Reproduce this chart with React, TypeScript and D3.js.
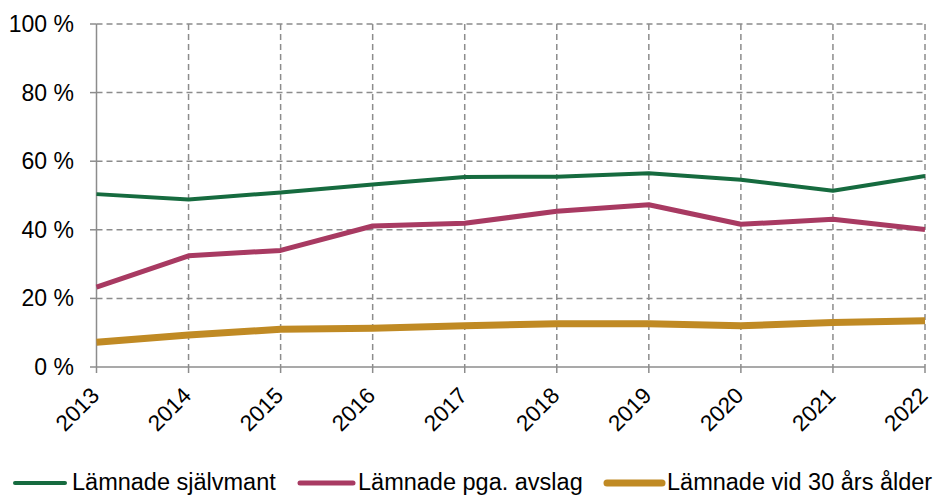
import React from 'react';
import * as d3 from 'd3';

const years = ['2013', '2014', '2015', '2016', '2017', '2018', '2019', '2020', '2021', '2022'];
const sjalvmant = [50.4, 48.8, 50.9, 53.2, 55.4, 55.5, 56.5, 54.6, 51.4, 55.7];
const avslag = [23.3, 32.4, 34.0, 41.1, 41.9, 45.4, 47.3, 41.6, 43.1, 40.1];
const vid30 = [7.2, 9.3, 11.0, 11.3, 12.0, 12.6, 12.6, 12.0, 13.0, 13.5];
const yTicks = [0, 20, 40, 60, 80, 100];

const series = [
  { name: 'Lämnade självmant', values: sjalvmant, color: '#166b3f', width: 4 },
  { name: 'Lämnade pga. avslag', values: avslag, color: '#a83a62', width: 5 },
  { name: 'Lämnade vid 30 års ålder', values: vid30, color: '#c08a24', width: 7 },
];

const font = 'Liberation Sans, Arial, sans-serif';

export default function App() {
  const width = 939;
  const height = 495;
  const x = d3.scalePoint<string>().domain(years).range([96.5, 925]);
  const y = d3.scaleLinear().domain([0, 100]).range([367, 24]);

  const line = d3.line<number>()
    .x((_, i) => x(years[i]) as number)
    .y(d => y(d));

  const grid = '#8c8c8c';
  const legendPos = [
    { x1: 15, x2: 65, tx: 72 },
    { x1: 300, x2: 353, tx: 358 },
    { x1: 607, x2: 662, tx: 667 },
  ];

  return (
    <svg width={width} height={height} style={{ position: 'absolute', left: 0, top: 0 }} fontFamily={font}>
      <rect width={width} height={height} fill="#fff" />
      {/* horizontal grid */}
      {yTicks.filter(t => t > 0).map(t => (
        <line key={t} x1={x(years[0])} x2={x(years[years.length - 1])} y1={y(t)} y2={y(t)}
          stroke={grid} strokeWidth={1.5} strokeDasharray="6,4" />
      ))}
      {/* vertical grid */}
      {years.slice(1).map(yr => (
        <line key={yr} x1={x(yr)} x2={x(yr)} y1={y(100)} y2={y(0)}
          stroke={grid} strokeWidth={1.5} strokeDasharray="6,4" />
      ))}
      {/* axes */}
      <line x1={x(years[0])} x2={x(years[0])} y1={y(100)} y2={y(0)} stroke={grid} strokeWidth={1.5} />
      <line x1={x(years[0])} x2={x(years[years.length - 1])} y1={y(0)} y2={y(0)} stroke={grid} strokeWidth={1.5} />
      {yTicks.map(t => (
        <g key={t}>
          <line x1={90} x2={x(years[0])} y1={y(t)} y2={y(t)} stroke={grid} strokeWidth={1.5} />
          <text x={74} y={y(t)} dy="0.35em" textAnchor="end" fontSize={23} fill="#000">{`${t} %`}</text>
        </g>
      ))}
      {years.map(yr => (
        <g key={yr}>
          <line x1={x(yr)} x2={x(yr)} y1={y(0)} y2={y(0) + 6} stroke={grid} strokeWidth={1.5} />
          <text transform={`translate(${(x(yr) as number) + 4},397) rotate(-45)`} textAnchor="end"
            fontSize={22.5} fill="#000">{yr}</text>
        </g>
      ))}
      {series.map(s => (
        <path key={s.name} d={line(s.values) ?? ''} fill="none" stroke={s.color} strokeWidth={s.width}
          strokeLinejoin="round" />
      ))}
      {series.map((s, i) => (
        <g key={s.name}>
          <line x1={legendPos[i].x1} x2={legendPos[i].x2} y1={483} y2={483} stroke={s.color}
            strokeWidth={s.width} strokeLinecap="round" />
          <text x={legendPos[i].tx} y={489.5} fontSize={23.5} fill="#000">{s.name}</text>
        </g>
      ))}
    </svg>
  );
}
